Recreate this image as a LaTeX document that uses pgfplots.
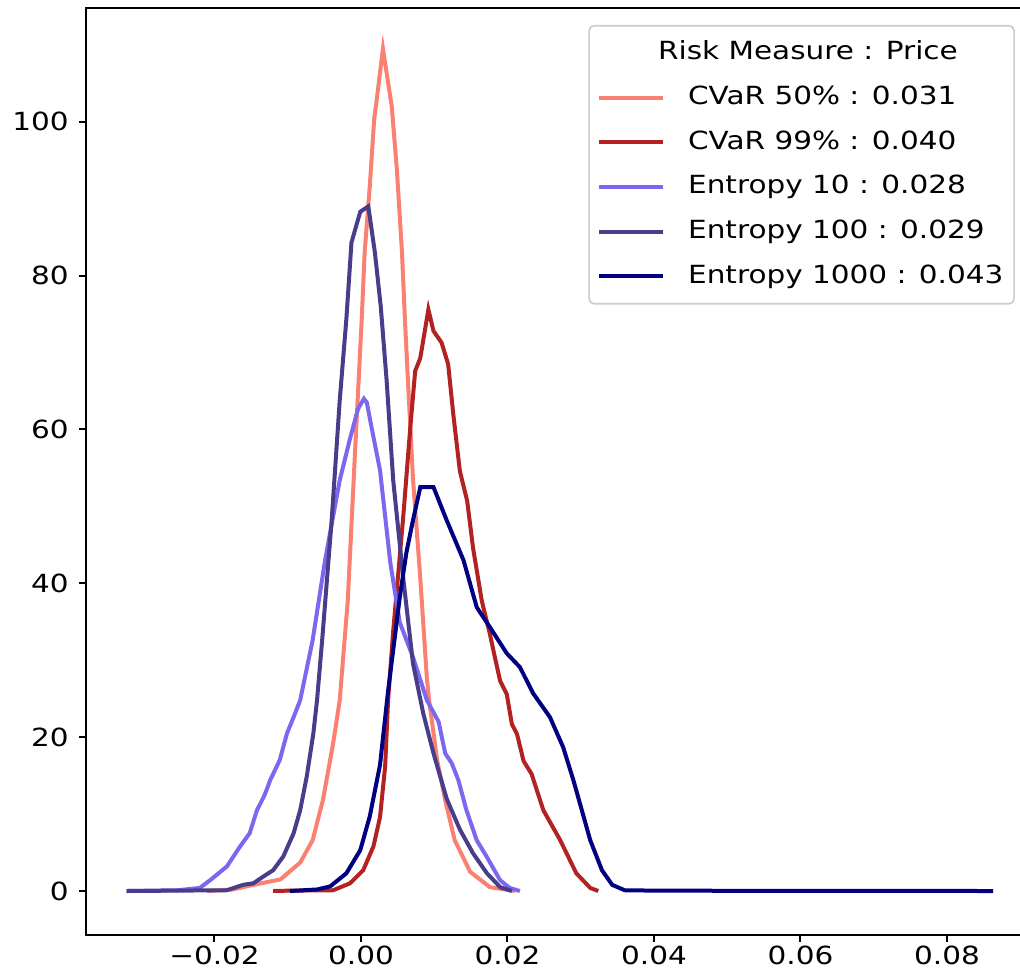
\documentclass[border=0pt]{standalone}
\usepackage{fontspec}
\setmainfont{DejaVu Sans}[FakeStretch=1.18]
\usepackage{pgfplots}
\pgfplotsset{compat=1.18}
\usetikzlibrary{calc}
\definecolor{csalmon}{RGB}{250,128,114}
\definecolor{cfire}{RGB}{178,34,34}
\definecolor{cmslate}{RGB}{123,104,238}
\definecolor{cdslate}{RGB}{72,61,139}
\definecolor{cnavy}{RGB}{0,0,128}
\begin{document}
\fontsize{7.5pt}{9pt}\selectfont
\begin{tikzpicture}
\begin{axis}[
 scale only axis, width=280.2pt, height=278.1pt,
 xmin=-0.03754, xmax=0.08997, ymin=-5.72, ymax=114.8,
 axis line style={draw=none},
 tick align=outside, tick pos=left, major tick length=2.1pt,
 every tick/.style={black, line width=0.6pt},
 xtick={-0.02,0,0.02,0.04,0.06,0.08},
 xticklabels={−0.02,0.00,0.02,0.04,0.06,0.08},
 ytick={0,20,40,60,80,100},
 yticklabels={0,20,40,60,80,100},
 tick label style={font=\fontsize{7.5pt}{9pt}\selectfont, text=black},
 xticklabel style={inner ysep=0.5pt, yshift=-0.4pt},
 yticklabel style={xshift=-0.4pt},
 clip=false,
 legend style={at={(axis description cs:0.9946,0.9817)}, anchor=north east,
   draw=black!20, line width=0.5pt, rounded corners=1.5pt, fill=white,
   inner xsep=2.4pt, inner ysep=4.7pt, row sep=6.4pt, column sep=6.9pt,
   font=\fontsize{7.5pt}{9pt}\selectfont,
   nodes={inner xsep=0pt, inner ysep=0pt, text height=5.5pt, text depth=1.5pt}},
 legend cell align=left,
 legend image code/.code={\draw[#1] (0pt,0pt) -- (19.2pt,0pt);},
 every axis plot/.append style={line width=1.2pt},
]
\addlegendimage{empty legend}
\addlegendentry{\hspace{-9pt}Risk Measure : Price}

\addplot[csalmon] coordinates {
(-0.0210,0) (-0.0175,0.2) (-0.0147,0.8) (-0.0110,1.5) (-0.0083,3.7) (-0.0066,6.6)
(-0.0052,11.8) (-0.0038,19.2) (-0.0029,24.8) (-0.0018,37.8) (-0.0008,57.3)
(0.0001,74.3) (0.0005,83.0) (0.0012,91.6) (0.0018,100.3) (0.0021,102.5) (0.0030,109.5)
(0.0042,102.0) (0.0049,93.8) (0.0056,83.0) (0.0060,74.3) (0.0064,66.6) (0.0071,53.6)
(0.0081,40.6) (0.0090,27.6) (0.0093,24.8) (0.0104,17.0) (0.0115,11.8) (0.0128,6.6)
(0.0149,2.5) (0.0176,0.5) (0.0210,0)
};
\addlegendentry{CVaR 50\% : 0.031}

\addplot[cfire] coordinates {
(-0.0120,0) (-0.0097,0.05) (-0.0038,0.1) (-0.0015,1.0) (0.0003,2.7) (0.0017,5.8)
(0.0026,9.6) (0.0033,16.2) (0.0037,24.8) (0.0044,33.8) (0.0058,49.0) (0.0067,59.9)
(0.0074,67.6) (0.0081,69.3) (0.0092,75.6) (0.0099,72.8) (0.0110,71.3) (0.0119,68.5)
(0.0126,62.0) (0.0135,54.6) (0.0145,50.7) (0.0153,44.6) (0.0165,37.7) (0.0176,33.4)
(0.0183,30.3) (0.0190,27.3) (0.0199,25.6) (0.0206,21.7) (0.0213,20.4) (0.0222,16.9)
(0.0233,15.2) (0.0236,14.3) (0.0249,10.5) (0.0272,6.6) (0.0294,2.3) (0.0313,0.4) (0.0324,0)
};
\addlegendentry{CVaR 99\% : 0.040}

\addplot[cmslate] coordinates {
(-0.0320,0) (-0.0250,0.1) (-0.0220,0.4) (-0.0206,1.4) (-0.0183,3.2) (-0.0165,5.8)
(-0.0152,7.5) (-0.0142,10.5) (-0.0133,12.2) (-0.0129,13.1) (-0.0124,14.4) (-0.0111,17.0)
(-0.0101,20.5) (-0.0092,22.6) (-0.0083,24.8) (-0.0066,32.6) (-0.0049,43.0) (-0.0029,53.4)
(-0.0015,58.8) (-0.0004,62.7) (0.0004,64.0) (0.0008,63.5) (0.0015,60.0) (0.0026,54.7)
(0.0040,42.7) (0.0053,34.9) (0.0071,30.4) (0.0090,24.8) (0.0106,22.0) (0.0115,17.9)
(0.0124,16.6) (0.0133,14.4) (0.0144,10.5) (0.0158,6.6) (0.0172,4.4) (0.0190,1.4)
(0.0203,0.4) (0.0217,0)
};
\addlegendentry{Entropy 10 : 0.028}

\addplot[cdslate] coordinates {
(-0.0320,0) (-0.0183,0.1) (-0.0161,0.8) (-0.0147,1.0) (-0.0133,1.9) (-0.0120,2.7)
(-0.0106,4.5) (-0.0092,7.5) (-0.0083,10.5) (-0.0074,14.9) (-0.0065,20.5) (-0.0060,24.8)
(-0.0053,32.6) (-0.0040,48.2) (-0.0029,63.8) (-0.0020,74.3) (-0.0013,84.3) (-0.0001,88.3)
(0.0010,89.0) (0.0019,83.0) (0.0027,76.0) (0.0035,66.4) (0.0044,53.4) (0.0058,40.4)
(0.0071,29.6) (0.0085,23.1) (0.0099,17.9) (0.0117,12.0) (0.0135,8.0) (0.0153,4.9)
(0.0172,2.3) (0.0190,0.5) (0.0206,0)
};
\addlegendentry{Entropy 100 : 0.029}

\addplot[cnavy] coordinates {
(-0.0097,0) (-0.0060,0.2) (-0.0042,0.6) (-0.0020,2.3) (-0.0001,5.3) (0.0012,9.7)
(0.0026,16.4) (0.0037,26.0) (0.0053,38.2) (0.0062,44.0) (0.0071,48.2) (0.0081,52.5)
(0.0099,52.5) (0.0117,48.2) (0.0140,43.0) (0.0158,36.9) (0.0176,34.3) (0.0199,30.9)
(0.0217,29.1) (0.0235,25.7) (0.0258,22.6) (0.0276,18.7) (0.0290,14.4) (0.0313,6.6)
(0.0329,2.7) (0.0343,0.8) (0.0360,0.1) (0.0400,0.05) (0.0500,0.03) (0.0600,0.02) (0.0863,0)
};
\addlegendentry{Entropy 1000 : 0.043\hspace*{0.8pt}}

\draw[black, line width=0.75pt] (rel axis cs:1,1) -- (rel axis cs:0,1) -- (rel axis cs:0,0) -- (rel axis cs:1,0);
\end{axis}
\pgfresetboundingbox
\path[use as bounding box] ($(current axis.south west)+(-25.8pt,-13.2pt)$) rectangle ($(current axis.north east)+(0pt,2.4pt)$);
\end{tikzpicture}
\end{document}
